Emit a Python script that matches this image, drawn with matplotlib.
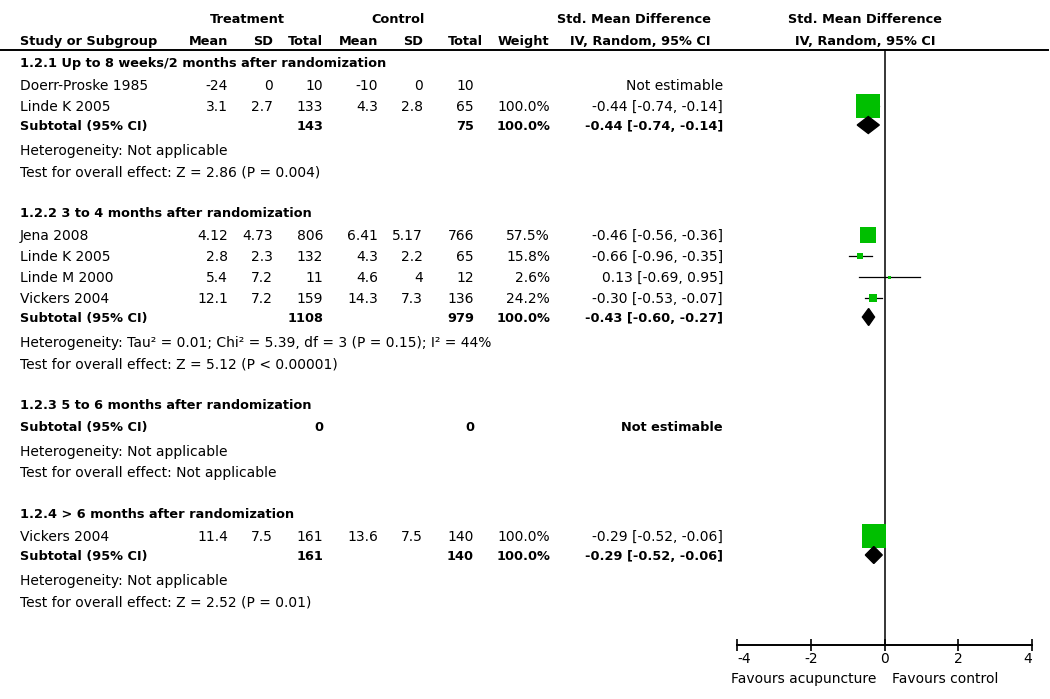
import numpy as np
import matplotlib
matplotlib.use("Agg")
from matplotlib import pyplot as plt
from matplotlib.patches import Polygon

plt.rcParams['font.family'] = ['DejaVu Sans']
plt.rcParams['font.size'] = 10

# subgroups
titles = ["1.2.1 Up to 8 weeks/2 months after randomization",
          "1.2.2 3 to 4 months after randomization",
          "1.2.3 5 to 6 months after randomization",
          "1.2.4 > 6 months after randomization"]
sub_trt_n = [143, 1108, 0, 161]
sub_ctl_n = [75, 979, 0, 140]
sub_weight = [100.0, 100.0, None, 100.0]
sub_smd = [-0.44, -0.43, None, -0.29]
sub_lo = [-0.74, -0.60, None, -0.52]
sub_hi = [-0.14, -0.27, None, -0.06]
heterogeneity = ["Not applicable",
                 "Tau\u00b2 = 0.01; Chi\u00b2 = 5.39, df = 3 (P = 0.15); I\u00b2 = 44%",
                 "Not applicable",
                 "Not applicable"]
overall = ["Z = 2.86 (P = 0.004)", "Z = 5.12 (P < 0.00001)",
           "Not applicable", "Z = 2.52 (P = 0.01)"]

# studies
study_group = [0, 0, 1, 1, 1, 1, 3]
study_names = ["Doerr-Proske 1985", "Linde K 2005", "Jena 2008", "Linde K 2005",
               "Linde M 2000", "Vickers 2004", "Vickers 2004"]
trt_mean = ["-24", "3.1", "4.12", "2.8", "5.4", "12.1", "11.4"]
trt_sd = ["0", "2.7", "4.73", "2.3", "7.2", "7.2", "7.5"]
trt_n = [10, 133, 806, 132, 11, 159, 161]
ctl_mean = ["-10", "4.3", "6.41", "4.3", "4.6", "14.3", "13.6"]
ctl_sd = ["0", "2.8", "5.17", "2.2", "4", "7.3", "7.5"]
ctl_n = [10, 65, 766, 65, 12, 136, 140]
weight = [None, 100.0, 57.5, 15.8, 2.6, 24.2, 100.0]
smd = [None, -0.44, -0.46, -0.66, 0.13, -0.30, -0.29]
ci_lo = [None, -0.74, -0.56, -0.96, -0.69, -0.53, -0.52]
ci_hi = [None, -0.14, -0.36, -0.35, 0.95, -0.07, -0.06]

xticks = [-4, -2, 0, 2, 4]

W, H = 1050, 699
fig = plt.figure(figsize=(W / 100, H / 100), dpi=100)
ax = fig.add_axes([0, 0, 1, 1])
ax.set_xlim(0, W)
ax.set_ylim(H, 0)
ax.axis('off')

# forest panel, -4 at x=737px, 4 at x=1032px
fx0, fx1 = 737, 1032
axf = fig.add_axes([fx0 / W, 0, (fx1 - fx0) / W, 1])
axf.set_xlim(-4, 4)
axf.set_ylim(H, 0)
axf.patch.set_visible(False)
for s in ['top', 'left', 'right']:
    axf.spines[s].set_visible(False)
axf.spines['bottom'].set_position(('data', 645))
axf.spines['bottom'].set_linewidth(1.4)
axf.set_yticks([])
axf.set_xticks(xticks)
axf.set_xticklabels([str(t) for t in xticks])
axf.tick_params(axis='x', direction='inout', length=8, width=1.2, pad=1, labelsize=10)
labs = axf.get_xticklabels()
labs[0].set_ha('left')
labs[-1].set_ha('right')

GREEN = '#00BF00'
BOLD_SIZE = 9.3

def txt(x, y, s, ha='right', bold=False):
    if bold:
        ax.text(x, y + 5, s, ha=ha, va='baseline', fontweight='bold', fontsize=BOLD_SIZE)
    else:
        ax.text(x, y + 5, s, ha=ha, va='baseline')

# header
txt(247, 18, "Treatment", ha='center', bold=True)
txt(398, 18, "Control", ha='center', bold=True)
txt(711, 18, "Std. Mean Difference", bold=True)
txt(865, 18, "Std. Mean Difference", ha='center', bold=True)
hy = 40
txt(20, hy, "Study or Subgroup", ha='left', bold=True)
txt(228, hy, "Mean", bold=True)
txt(273, hy, "SD", bold=True)
txt(323, hy, "Total", bold=True)
txt(378, hy, "Mean", bold=True)
txt(423, hy, "SD", bold=True)
txt(483, hy, "Total", bold=True)
txt(549, hy, "Weight", bold=True)
txt(711, hy, "IV, Random, 95% CI", bold=True)
txt(865, hy, "IV, Random, 95% CI", ha='center', bold=True)
ax.plot([0, 1048], [50, 50], color='black', lw=1.4)
axf.plot([0, 0], [50, 645], color='black', lw=1.1, zorder=1)

def ci_text(m, lo, hi):
    return f"{m:.2f} [{lo:.2f}, {hi:.2f}]"

y = 62
for g in range(len(titles)):
    txt(20, y, titles[g], ha='left', bold=True)
    idx = [i for i in range(len(study_names)) if study_group[i] == g]
    first = True
    for i in idx:
        y += 23 if first else 21
        first = False
        txt(20, y, study_names[i], ha='left')
        txt(228, y, trt_mean[i])
        txt(273, y, trt_sd[i])
        txt(323, y, str(trt_n[i]))
        txt(378, y, ctl_mean[i])
        txt(423, y, ctl_sd[i])
        txt(474, y, str(ctl_n[i]))
        if smd[i] is None:
            txt(723, y, "Not estimable")
            continue
        txt(550, y, f"{weight[i]:.1f}%")
        txt(723, y, ci_text(smd[i], ci_lo[i], ci_hi[i]))
        side = max(3, 24 * (weight[i] / 100) ** 0.8)
        axf.plot([ci_lo[i], ci_hi[i]], [y, y], color='black', lw=0.9, zorder=2)
        axf.plot(smd[i], y, marker='s', ms=side * 0.72, mew=0, color=GREEN, zorder=3)
    y += 19 if idx else 22
    txt(20, y, "Subtotal (95% CI)", ha='left', bold=True)
    txt(323, y, str(sub_trt_n[g]), bold=True)
    txt(474, y, str(sub_ctl_n[g]), bold=True)
    if sub_smd[g] is None:
        txt(723, y, "Not estimable", bold=True)
    else:
        txt(550, y, f"{sub_weight[g]:.1f}%", bold=True)
        txt(723, y, ci_text(sub_smd[g], sub_lo[g], sub_hi[g]), bold=True)
        dia = Polygon([(sub_lo[g], y), (sub_smd[g], y - 8.5), (sub_hi[g], y), (sub_smd[g], y + 8.5)],
                      closed=True, color='black', zorder=4)
        axf.add_patch(dia)
    y += 25
    txt(20, y, "Heterogeneity: " + heterogeneity[g], ha='left')
    y += 21
    txt(20, y, "Test for overall effect: " + overall[g], ha='left')
    y += 41

axf.text(-0.22, 683, "Favours acupuncture", ha='right', va='baseline', fontsize=10)
axf.text(0.2, 683, "Favours control", ha='left', va='baseline', fontsize=10)

fig.savefig("out.png", dpi=100)
